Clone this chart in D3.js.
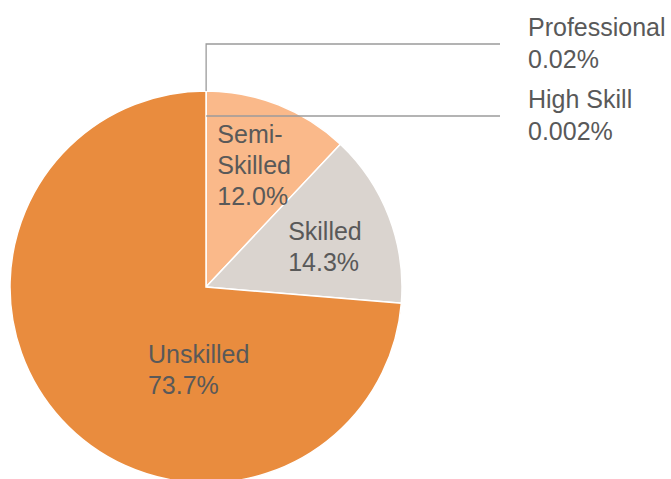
<!DOCTYPE html>
<html>
<head>
<meta charset="utf-8">
<script src="https://cdn.jsdelivr.net/npm/d3@7"></script>
<style>
  body { margin: 0; background: #fff; }
  svg text { font-family: "Liberation Sans", Arial, sans-serif; font-size: 25px; fill: #595959; }
</style>
</head>
<body>
<div id="chart"></div>
<script>
// skill level shares (%), clockwise from 12 o'clock
var names = ["Professional", "High Skill", "Semi-Skilled", "Skilled", "Unskilled"];
var values = [0.02, 0.002, 12.0, 14.3, 73.7];
var valueLabels = ["0.02%", "0.002%", "12.0%", "14.3%", "73.7%"];
var colours = ["#e98c3e", "#e98c3e", "#fab98a", "#dad4cf", "#e98c3e"];

var width = 671;
var height = 479;
var radius = 196;
var cx = 206, cy = 287;

var svg = d3.select("#chart")
    .append("svg")
    .attr("width", width)
    .attr("height", height);

var g = svg.append("g")
    .attr("transform", "translate(" + cx + "," + cy + ")");

var data = names.map(function(n, i) {
    return { name: n, value: values[i], label: valueLabels[i], colour: colours[i] };
});

var pie = d3.pie()
    .sort(null)
    .value(function(d) { return d.value; });

var arcs = pie(data);

var arc = d3.arc()
    .innerRadius(0)
    .outerRadius(radius);

g.selectAll("path")
    .data(arcs)
    .enter().append("path")
    .attr("d", arc)
    .style("fill", function(d) { return d.data.colour; })
    .style("stroke", "#fff")
    .style("stroke-width", 1.5);

var lineH = 31;

// labels inside the pie: radius fraction, optional fixed angle (deg)
var inside = {
    "Semi-Skilled": { r: 0.665, lines: ["Semi-", "Skilled"] },
    "Skilled": { r: 0.64, da: 2.5, lines: ["Skilled"] },
    "Unskilled": { r: 0.43, a: 185, lines: ["Unskilled"] }
};

arcs.forEach(function(d) {
    var p = inside[d.data.name];
    if (!p) return;
    var ang = p.a !== undefined ? p.a * Math.PI / 180 : (d.startAngle + d.endAngle) / 2 + (p.da || 0) * Math.PI / 180;
    var x = Math.sin(ang) * radius * p.r;
    var y = -Math.cos(ang) * radius * p.r;
    var lines = p.lines.concat([d.data.label]);
    var t = g.append("text");
    lines.forEach(function(s, i) {
        t.append("tspan").attr("y", y + (i - (lines.length - 1) / 2) * lineH + 8).text(s);
    });
    var w = 0;
    t.selectAll("tspan").each(function() { w = Math.max(w, this.getComputedTextLength()); });
    t.selectAll("tspan").attr("x", x - w / 2);
});

// labels outside, with leader lines
var outside = { "Professional": -243, "High Skill": -171 };
var lineEnd = 294;

arcs.forEach(function(d) {
    var ly = outside[d.data.name];
    if (ly === undefined) return;
    var ang = (d.startAngle + d.endAngle) / 2;
    var pts;
    if (-ly > radius) {
        var ex = Math.sin(ang) * radius, ey = -Math.cos(ang) * radius;
        pts = [[ex, ey], [ex, ly], [lineEnd, ly]];
    } else {
        pts = [[-ly * Math.tan(ang), ly], [lineEnd, ly]];
    }
    g.append("path")
        .attr("d", d3.line()(pts))
        .style("fill", "none")
        .style("stroke", "#9b9b9b")
        .style("stroke-width", 1.3);
    var t = g.append("text");
    [d.data.name, d.data.label].forEach(function(s, i) {
        t.append("tspan").attr("x", lineEnd + 28).attr("y", ly + (i - 0.5) * 32 + 8).text(s);
    });
});
</script>
</body>
</html>
